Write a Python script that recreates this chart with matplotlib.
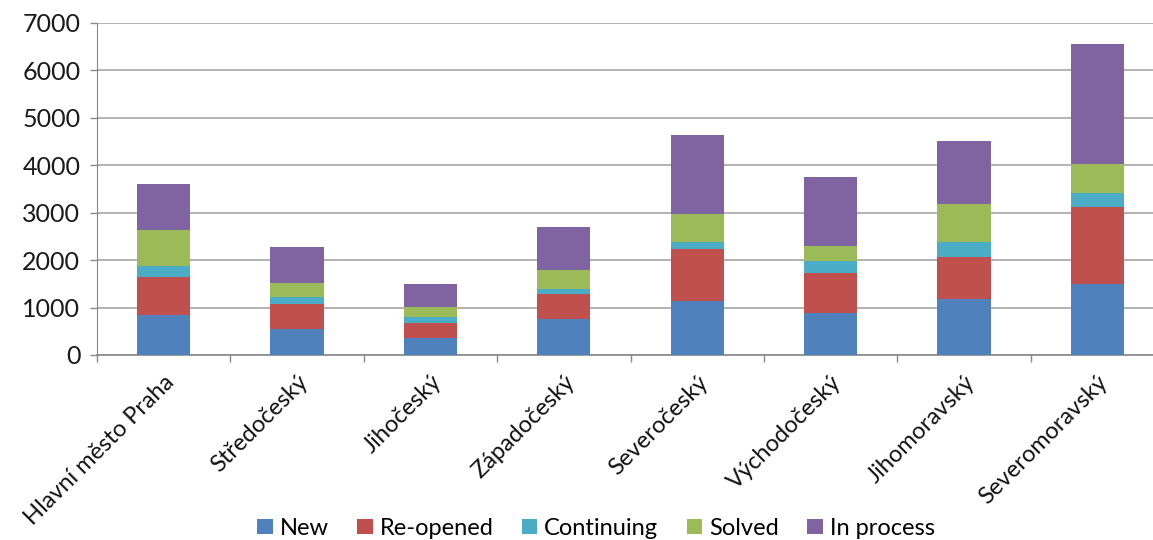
import matplotlib.pyplot as plt
import numpy as np

regions = ["Hlavní město Praha", "Středočeský", "Jihočeský", "Západočeský",
           "Severočeský", "Východočeský", "Jihomoravský", "Severomoravský"]
new = [845, 550, 350, 760, 1145, 880, 1175, 1490]
reopened = [810, 520, 330, 530, 1085, 855, 885, 1625]
continuing = [225, 160, 115, 105, 160, 250, 330, 300]
solved = [755, 295, 210, 400, 580, 320, 790, 620]
in_process = [970, 760, 500, 900, 1675, 1455, 1335, 2520]

series = [("New", new, "#4F81BD"), ("Re-opened", reopened, "#C0504D"),
          ("Continuing", continuing, "#4BACC6"), ("Solved", solved, "#9BBB59"),
          ("In process", in_process, "#8064A2")]

plt.rcParams['font.family'] = ['Lato', 'DejaVu Sans']

fig = plt.figure(figsize=(11.53, 5.4), dpi=100)
ax = fig.add_axes([97 / 1153, 1 - 355 / 540, 1067 / 1153, 332 / 540])

x = np.arange(len(regions))
bottom = np.zeros(len(regions))
for name, vals, col in series:
    ax.bar(x, vals, 0.4, bottom=bottom, color=col, label=name, zorder=3)
    bottom += np.array(vals)

ax.set_xlim(-0.5, len(regions) - 0.5)
ax.set_ylim(0, 7000)
ax.set_yticks(range(0, 7001, 1000))
ax.yaxis.grid(True, color="#A6A6A6", linewidth=1.2, zorder=0)
ax.tick_params(axis="y", labelsize=18, colors="#888888", labelcolor="#1a1a1a",
               length=5, width=1, pad=7)

ax.set_xticks(x)
ax.set_xticklabels(regions, rotation=45, ha="right", rotation_mode="anchor",
                   fontsize=17, color="#111111")
ax.tick_params(axis="x", length=0, pad=12)
ax.set_xticks(np.arange(-0.5, len(regions), 1), minor=True)
ax.tick_params(axis="x", which="minor", length=5, color="#888888", width=1)

for s in ["top", "right"]:
    ax.spines[s].set_visible(False)
ax.spines["left"].set_color("#888888")
ax.spines["bottom"].set_color("#888888")
ax.spines["bottom"].set_linewidth(1.2)

fig.legend(loc="lower center", bbox_to_anchor=(0.517, -0.037), ncol=5, fontsize=17,
           frameon=False, handlelength=0.65, handleheight=0.65, handletextpad=0.3,
           columnspacing=1.2)

fig.savefig("out.png", dpi=100)
